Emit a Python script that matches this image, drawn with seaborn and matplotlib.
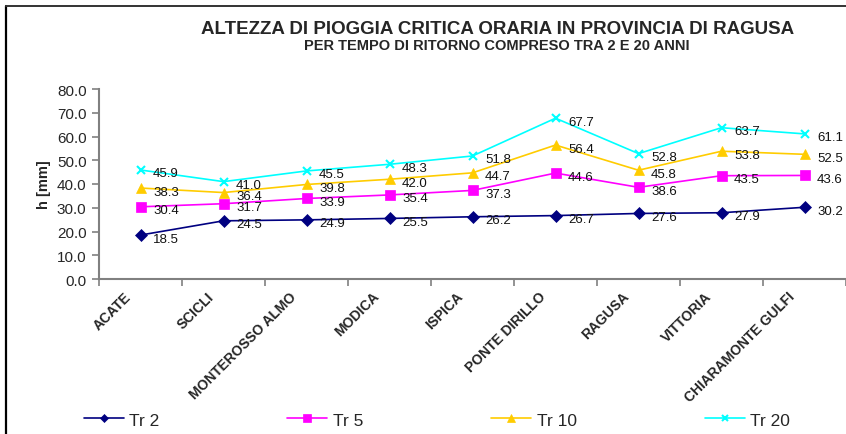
import numpy as np
import pandas as pd
import seaborn as sns
import matplotlib.pyplot as plt
from matplotlib import font_manager
from matplotlib.lines import Line2D
from matplotlib.transforms import ScaledTranslation

# ---- data ----
stations = ["ACATE", "SCICLI", "MONTEROSSO ALMO", "MODICA", "ISPICA",
            "PONTE DIRILLO", "RAGUSA", "VITTORIA", "CHIARAMONTE GULFI"]
tr2 = [18.5, 24.5, 24.9, 25.5, 26.2, 26.7, 27.6, 27.9, 30.2]
tr5 = [30.4, 31.7, 33.9, 35.4, 37.3, 44.6, 38.6, 43.5, 43.6]
tr10 = [38.3, 36.4, 39.8, 42.0, 44.7, 56.4, 45.8, 53.8, 52.5]
tr20 = [45.9, 41.0, 45.5, 48.3, 51.8, 67.7, 52.8, 63.7, 61.1]

series = [("Tr 2", tr2, "#000080", "D", 6),
          ("Tr 5", tr5, "#FF00FF", "s", 7),
          ("Tr 10", tr10, "#FFCC00", "^", 7.5),
          ("Tr 20", tr20, "#00FFFF", "x", 6)]

sns.set_style("white")
names = {f.name for f in font_manager.fontManager.ttflist}
narrow = "Liberation Sans Narrow" if "Liberation Sans Narrow" in names else "Liberation Sans"
plt.rcParams["font.family"] = ["Liberation Sans", "DejaVu Sans"]

fig = plt.figure(figsize=(8.46, 4.35), dpi=100)
ax = fig.add_axes([99 / 846, 1 - 280 / 435, 747 / 846, 190 / 435])

x = np.arange(len(stations))
for name, vals, col, mk, ms in series:
    sns.lineplot(x=x, y=vals, ax=ax, color=col, marker=mk, markersize=ms,
                 markeredgecolor=col, markeredgewidth=1.5 if mk == "x" else 0.5,
                 linewidth=1.2, label=name, sort=False)
    for xi, v in zip(x, vals):
        ax.annotate(f"{v:.1f}", (xi, v), xytext=(9, -2.5), textcoords="offset points",
                    fontsize=9.5, va="center", ha="left", color="#111111")

ax.set_xlim(-0.5, len(stations) - 0.5)
ax.set_ylim(0, 80)
ax.set_yticks(np.arange(0, 81, 10))
ax.set_yticklabels([f"{v:.1f}" for v in np.arange(0, 81, 10)], fontsize=11)
ax.set_xticks(x)
ax.set_xticks(np.arange(-0.5, len(stations)), minor=True)
ax.set_xticklabels(stations, rotation=45, ha="right", va="top",
                   rotation_mode="anchor", fontsize=10, fontweight="bold",
                   family=narrow)
ax.tick_params(axis="x", which="major", length=0, pad=0)
ax.tick_params(axis="x", which="minor", length=5, width=1.2, color="#808080",
               direction="out", bottom=True)
ax.tick_params(axis="y", length=5, width=1.2, color="#808080", direction="out",
               left=True, pad=4)
off = ScaledTranslation(-17 / 100, -10 / 100, fig.dpi_scale_trans)
for lbl in ax.get_xticklabels():
    lbl.set_transform(lbl.get_transform() + off)

for s in ["top", "right"]:
    ax.spines[s].set_visible(False)
for s in ["left", "bottom"]:
    ax.spines[s].set_color("#808080")
    ax.spines[s].set_linewidth(1.5)

ax.set_xlabel("")
ax.set_ylabel("h [mm]", fontsize=10.5, fontweight="bold")
ax.yaxis.set_label_coords(-0.064, 0.5)

fig.text(498 / 846, 1 - 30 / 435, "ALTEZZA DI PIOGGIA CRITICA ORARIA IN PROVINCIA DI RAGUSA",
         ha="center", va="center", fontsize=13.5, fontweight="bold")
fig.text(497 / 846, 1 - 46 / 435, "PER TEMPO DI RITORNO COMPRESO TRA 2 E 20 ANNI",
         ha="center", va="center", fontsize=10.5, fontweight="bold", family=narrow)

ax.legend_.remove()
handles, labels = ax.get_legend_handles_labels()
fig.legend(handles, labels, loc="center left", bbox_to_anchor=(68 / 846, 1 - 421 / 435),
           ncol=4, frameon=False, handlelength=2.3, handletextpad=0.3,
           columnspacing=7.4, markerscale=0.75, prop={"family": narrow, "size": 12.5})

# frame lines of the original sheet
fig.add_artist(Line2D([6 / 846, 6 / 846], [0, 1 - 7 / 435], color="black", lw=1.6))
fig.add_artist(Line2D([6 / 846, 1], [1 - 7 / 435, 1 - 7 / 435], color="#333333", lw=1.4))

fig.savefig("out.png", dpi=100)
